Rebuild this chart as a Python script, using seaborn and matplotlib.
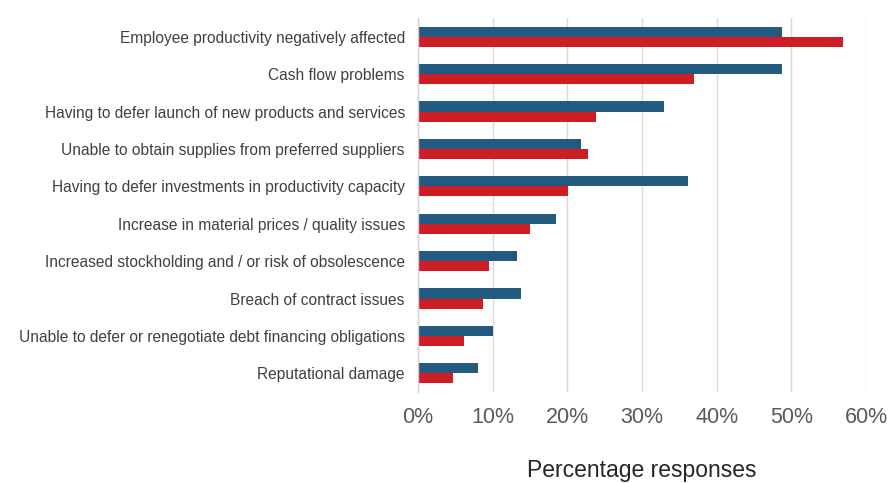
import matplotlib
matplotlib.use("Agg")
import matplotlib.pyplot as plt
import seaborn as sns
import pandas as pd
from matplotlib.ticker import PercentFormatter

categories = [
    "Employee productivity negatively affected",
    "Cash flow problems",
    "Having to defer launch of new products and services",
    "Unable to obtain supplies from preferred suppliers",
    "Having to defer investments in productivity capacity",
    "Increase in material prices / quality issues",
    "Increased stockholding and / or risk of obsolescence",
    "Breach of contract issues",
    "Unable to defer or renegotiate debt financing obligations",
    "Reputational damage",
]
series_names = ["Series 1", "Series 2"]
series_1 = [48.8, 48.7, 32.9, 21.8, 36.2, 18.5, 13.2, 13.8, 10.0, 8.1]
series_2 = [56.9, 37.0, 23.9, 22.8, 20.1, 15.0, 9.5, 8.7, 6.1, 4.7]
x_ticks = [0, 10, 20, 30, 40, 50, 60]

df = pd.DataFrame({
    "category": categories * 2,
    "series": [series_names[0]] * len(categories) + [series_names[1]] * len(categories),
    "value": series_1 + series_2,
})

sns.set_theme(style="white")
plt.rcParams["font.family"] = ["Liberation Sans", "DejaVu Sans"]

fig = plt.figure(figsize=(8.91, 4.83), dpi=100)
ax = fig.add_axes([418 / 891, 1 - 392 / 483, (866 - 418) / 891, (392 - 18) / 483])

sns.barplot(
    data=df, y="category", x="value", hue="series", order=categories,
    hue_order=series_names, palette=["#225a80", "#cf1d26"], saturation=1,
    orient="h", width=0.535, linewidth=0, ax=ax, legend=False,
)

ax.set_xlim(0, 60)
ax.set_xticks(x_ticks)
ax.xaxis.set_major_formatter(PercentFormatter(100, decimals=0))
ax.grid(axis="x", color="#d9d9d9", linewidth=1)
ax.set_axisbelow(True)
for s in ["top", "right", "bottom"]:
    ax.spines[s].set_visible(False)
ax.spines["left"].set_color("#d0d0d0")
ax.spines["left"].set_linewidth(1)

ax.tick_params(axis="x", length=0, pad=11, labelsize=15.5, labelcolor="#595959")
ax.tick_params(axis="y", length=0, pad=9.5, labelsize=11.2, labelcolor="#404040")
ax.set_ylabel("")
ax.set_xlabel("Percentage responses", fontsize=16.5, color="#262626", labelpad=22)

fig.savefig("out.png", dpi=100)
